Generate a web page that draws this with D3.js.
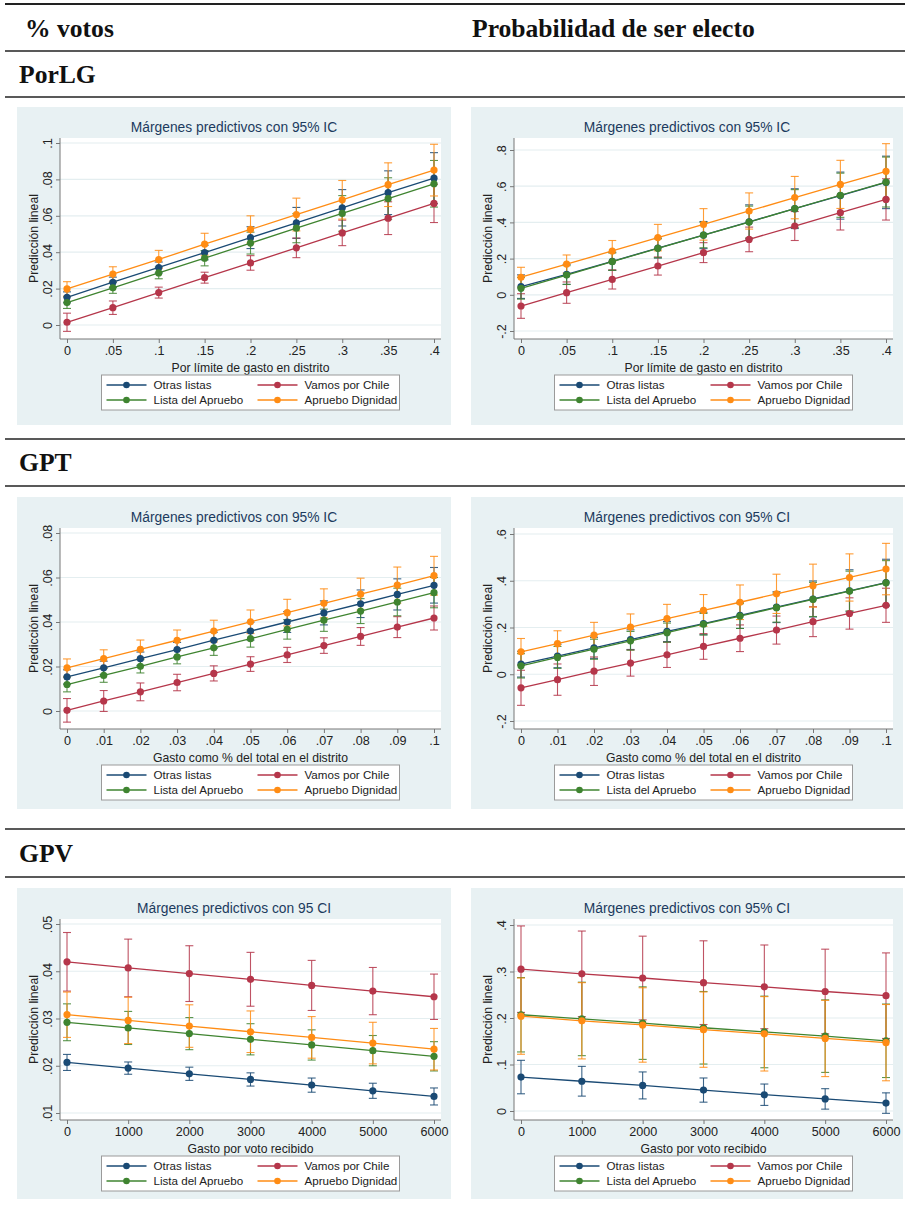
<!DOCTYPE html>
<meta charset="utf-8">
<script src="https://d3js.org/d3.v7.min.js"></script>
<style>
  body { margin: 0; background: #fff; }
  .hdr { font-family: "Liberation Serif", "DejaVu Serif", serif; font-weight: bold; font-size: 25.6px; fill: #111; }
  .ctitle { font-family: "Liberation Sans", Arial, sans-serif; font-size: 13.8px; fill: #1c3b5e; }
  .axt { font-family: "Liberation Sans", Arial, sans-serif; font-size: 12.2px; fill: #222; }
  .tick text { font-family: "Liberation Sans", Arial, sans-serif; font-size: 12.6px; fill: #222; }
  .leg { font-family: "Liberation Sans", Arial, sans-serif; font-size: 11.6px; fill: #222; }
</style>
<body>
<script>
// series (legend order)
var seriesNames = ["Otras listas", "Vamos por Chile", "Lista del Apruebo", "Apruebo Dignidad"];
var seriesColors = ["#1a4a74", "#b5364a", "#3f8430", "#ff8c14"];

// x values / tick labels
var xPorLG = [0, .05, .1, .15, .2, .25, .3, .35, .4];
var xPorLGLabels = ["0", ".05", ".1", ".15", ".2", ".25", ".3", ".35", ".4"];
var xGPT = [0, .01, .02, .03, .04, .05, .06, .07, .08, .09, .1];
var xGPTLabels = ["0", ".01", ".02", ".03", ".04", ".05", ".06", ".07", ".08", ".09", ".1"];
var xGPV = [0, 1000, 2000, 3000, 4000, 5000, 6000];
var xGPVLabels = ["0", "1000", "2000", "3000", "4000", "5000", "6000"];

// PorLG - % votos
var porlgVotosFit = [
  [0.0152, 0.0235, 0.0316, 0.0398, 0.0480, 0.0561, 0.0644, 0.0727, 0.0807],
  [0.0015, 0.0095, 0.0178, 0.0260, 0.0341, 0.0424, 0.0506, 0.0587, 0.0668],
  [0.0123, 0.0204, 0.0286, 0.0367, 0.0450, 0.0532, 0.0613, 0.0694, 0.0776],
  [0.0198, 0.0280, 0.0360, 0.0444, 0.0525, 0.0607, 0.0688, 0.0771, 0.0851]
];
var porlgVotosCI = [
  [0.0030, 0.0028, 0.0030, 0.0040, 0.0060, 0.0085, 0.0100, 0.0120, 0.0140],
  [0.0050, 0.0037, 0.0030, 0.0030, 0.0040, 0.0054, 0.0070, 0.0090, 0.0105],
  [0.0032, 0.0030, 0.0032, 0.0042, 0.0060, 0.0080, 0.0098, 0.0115, 0.0128],
  [0.0040, 0.0040, 0.0050, 0.0060, 0.0075, 0.0090, 0.0106, 0.0120, 0.0142]
];
// PorLG - probabilidad
var porlgProbFit = [
  [0.045, 0.113, 0.185, 0.258, 0.330, 0.403, 0.476, 0.548, 0.621],
  [-0.062, 0.012, 0.085, 0.159, 0.233, 0.306, 0.380, 0.454, 0.527],
  [0.036, 0.109, 0.183, 0.257, 0.330, 0.402, 0.476, 0.550, 0.623],
  [0.097, 0.170, 0.242, 0.316, 0.389, 0.463, 0.537, 0.610, 0.682]
];
var porlgProbCI = [
  [0.065, 0.055, 0.050, 0.055, 0.075, 0.094, 0.110, 0.130, 0.145],
  [0.068, 0.059, 0.053, 0.050, 0.055, 0.068, 0.080, 0.096, 0.114],
  [0.060, 0.052, 0.048, 0.052, 0.070, 0.088, 0.105, 0.122, 0.138],
  [0.055, 0.050, 0.058, 0.073, 0.087, 0.100, 0.117, 0.133, 0.153]
];
// GPT - % votos
var gptVotosFit = [
  [0.0153, 0.0194, 0.0235, 0.0276, 0.0318, 0.0359, 0.0400, 0.0441, 0.0482, 0.0524, 0.0565],
  [0.0003, 0.0045, 0.0086, 0.0128, 0.0169, 0.0211, 0.0252, 0.0294, 0.0335, 0.0377, 0.0418],
  [0.0119, 0.0160, 0.0201, 0.0243, 0.0284, 0.0325, 0.0367, 0.0408, 0.0449, 0.0490, 0.0532],
  [0.0194, 0.0235, 0.0277, 0.0318, 0.0359, 0.0401, 0.0442, 0.0484, 0.0525, 0.0566, 0.0608]
];
var gptVotosCI = [
  [0.0032, 0.0030, 0.0030, 0.0032, 0.0036, 0.0040, 0.0047, 0.0054, 0.0062, 0.0070, 0.0080],
  [0.0053, 0.0047, 0.0040, 0.0037, 0.0034, 0.0033, 0.0034, 0.0035, 0.0040, 0.0047, 0.0054],
  [0.0033, 0.0031, 0.0030, 0.0031, 0.0034, 0.0038, 0.0044, 0.0050, 0.0056, 0.0062, 0.0068],
  [0.0040, 0.0040, 0.0042, 0.0046, 0.0049, 0.0053, 0.0060, 0.0065, 0.0072, 0.0081, 0.0087]
];
// GPT - probabilidad
var gptProbFit = [
  [0.043, 0.078, 0.113, 0.148, 0.183, 0.217, 0.252, 0.287, 0.322, 0.357, 0.392],
  [-0.058, -0.023, 0.013, 0.048, 0.083, 0.119, 0.154, 0.189, 0.225, 0.260, 0.295],
  [0.036, 0.072, 0.107, 0.143, 0.178, 0.214, 0.249, 0.285, 0.320, 0.356, 0.391],
  [0.096, 0.131, 0.167, 0.202, 0.238, 0.273, 0.308, 0.344, 0.379, 0.414, 0.450]
];
var gptProbCI = [
  [0.055, 0.050, 0.045, 0.042, 0.043, 0.048, 0.056, 0.066, 0.077, 0.090, 0.100],
  [0.075, 0.067, 0.061, 0.056, 0.054, 0.055, 0.057, 0.060, 0.064, 0.067, 0.073],
  [0.052, 0.047, 0.043, 0.040, 0.041, 0.046, 0.053, 0.062, 0.073, 0.085, 0.095],
  [0.057, 0.055, 0.055, 0.056, 0.061, 0.068, 0.074, 0.084, 0.092, 0.101, 0.110]
];
// GPV - % votos
var gpvVotosFit = [
  [0.0207, 0.0195, 0.0183, 0.0171, 0.0159, 0.0147, 0.0135],
  [0.0420, 0.0407, 0.0395, 0.0383, 0.0370, 0.0358, 0.0346],
  [0.0292, 0.0280, 0.0268, 0.0256, 0.0244, 0.0232, 0.0220],
  [0.0308, 0.0296, 0.0284, 0.0272, 0.0260, 0.0248, 0.0235]
];
var gpvVotosCI = [
  [0.0017, 0.0013, 0.0014, 0.0014, 0.0015, 0.0016, 0.0018],
  [0.0062, 0.0061, 0.0059, 0.0057, 0.0053, 0.0050, 0.0048],
  [0.0039, 0.0035, 0.0034, 0.0033, 0.0032, 0.0032, 0.0031],
  [0.0048, 0.0049, 0.0045, 0.0044, 0.0044, 0.0044, 0.0044]
];
// GPV - probabilidad
var gpvProbFit = [
  [0.073, 0.064, 0.055, 0.045, 0.035, 0.026, 0.017],
  [0.305, 0.295, 0.286, 0.276, 0.267, 0.257, 0.248],
  [0.207, 0.198, 0.189, 0.179, 0.170, 0.161, 0.151],
  [0.204, 0.194, 0.185, 0.175, 0.166, 0.156, 0.147]
];
var gpvProbCI = [
  [0.036, 0.032, 0.029, 0.026, 0.023, 0.022, 0.022],
  [0.093, 0.092, 0.090, 0.090, 0.090, 0.091, 0.092],
  [0.080, 0.079, 0.078, 0.078, 0.077, 0.078, 0.079],
  [0.082, 0.082, 0.080, 0.081, 0.080, 0.082, 0.082]
];

// y ticks
var yTicks1 = [0, .02, .04, .06, .08, .1], yLabels1 = ["0", ".02", ".04", ".06", ".08", ".1"];
var yTicks2 = [-.2, 0, .2, .4, .6, .8], yLabels2 = ["-.2", "0", ".2", ".4", ".6", ".8"];
var yTicks3 = [0, .02, .04, .06, .08], yLabels3 = ["0", ".02", ".04", ".06", ".08"];
var yTicks4 = [-.2, 0, .2, .4, .6], yLabels4 = ["-.2", "0", ".2", ".4", ".6"];
var yTicks5 = [.01, .02, .03, .04, .05], yLabels5 = [".01", ".02", ".03", ".04", ".05"];
var yTicks6 = [0, .1, .2, .3, .4], yLabels6 = ["0", ".1", ".2", ".3", ".4"];

var W = 905, H = 1211;
var svg = d3.select("body").append("svg").attr("width", W).attr("height", H);
svg.append("rect").attr("width", W).attr("height", H).attr("fill", "#fff");

// table rules + headings
[4, 51, 97, 439, 486, 829, 877].forEach(function(y, i) {
  svg.append("line").attr("x1", 5).attr("x2", W).attr("y1", y).attr("y2", y)
    .attr("stroke", "#222").attr("stroke-width", i == 0 ? 2 : 1.6);
});
svg.append("text").attr("class", "hdr").attr("x", 25).attr("y", 37).text("% votos");
svg.append("text").attr("class", "hdr").attr("x", 472).attr("y", 37).text("Probabilidad de ser electo");
svg.append("text").attr("class", "hdr").attr("x", 19).attr("y", 83).text("PorLG");
svg.append("text").attr("class", "hdr").attr("x", 19).attr("y", 471).text("GPT");
svg.append("text").attr("class", "hdr").attr("x", 19).attr("y", 862).text("GPV");

function drawPanel(o) {
  var g = svg.append("g").attr("transform", "translate(" + o.x + "," + o.y + ")");
  g.append("rect").attr("width", o.w).attr("height", o.h).attr("fill", "#e8f1f3");

  var pl = 43, pr = o.w - 10, pt = 31, pb = 31 + 201;
  g.append("rect").attr("x", pl).attr("y", pt).attr("width", pr - pl).attr("height", pb - pt).attr("fill", "#fff");

  var x = d3.scaleLinear().domain([o.xs[0], o.xs[o.xs.length - 1]]).range([pl + 7, pr - 7]);
  var y = d3.scaleLinear().domain([o.yt[0], o.yt[o.yt.length - 1]]).range([pb - o.padB, pt + o.padT]);

  // grid
  g.selectAll(".grid").data(o.yt).enter().append("line")
    .attr("x1", pl).attr("x2", pr).attr("y1", function(d) { return y(d); }).attr("y2", function(d) { return y(d); })
    .attr("stroke", "#e4eef0").attr("stroke-width", 1.2);

  g.append("text").attr("class", "ctitle").attr("x", o.w / 2).attr("y", 25).attr("text-anchor", "middle").text(o.title);

  // axes
  var ya = g.append("g").attr("transform", "translate(" + pl + ",0)")
    .call(d3.axisLeft(y).tickValues(o.yt).tickFormat(function(d, i) { return o.yl[i]; }).tickSize(4).tickSizeOuter(0));
  ya.select(".domain").remove();
  ya.selectAll(".tick line").attr("stroke", "#777");
  ya.selectAll(".tick text").attr("transform", "rotate(-90)").attr("x", 0).attr("y", -8).attr("dy", 0)
    .attr("text-anchor", "middle");

  var xa = g.append("g").attr("transform", "translate(0," + pb + ")")
    .call(d3.axisBottom(x).tickValues(o.xs).tickFormat(function(d, i) { return o.xl[i]; }).tickSize(4).tickPadding(3).tickSizeOuter(0));
  xa.select(".domain").remove();
  xa.selectAll(".tick line").attr("stroke", "#777");

  g.append("line").attr("x1", pl).attr("x2", pl).attr("y1", pt).attr("y2", pb).attr("stroke", "#777");
  g.append("line").attr("x1", pl).attr("x2", pr).attr("y1", pb).attr("y2", pb).attr("stroke", "#777");

  g.append("text").attr("class", "axt").attr("x", (pl + pr) / 2).attr("y", pb + 33).attr("text-anchor", "middle").text(o.xTitle);
  g.append("text").attr("class", "axt").attr("transform", "translate(" + (pl - 22) + "," + ((pt + pb) / 2) + ") rotate(-90)")
    .attr("text-anchor", "middle").text("Predicción lineal");

  // CIs
  o.fit.forEach(function(s, k) {
    var col = seriesColors[k];
    s.forEach(function(v, i) {
      var cx = x(o.xs[i]), lo = y(v - o.ci[k][i]), hi = y(v + o.ci[k][i]);
      g.append("line").attr("x1", cx).attr("x2", cx).attr("y1", lo).attr("y2", hi).attr("stroke", col).attr("stroke-width", 1.1).attr("opacity", 0.85);
      [lo, hi].forEach(function(yy) {
        g.append("line").attr("x1", cx - 4).attr("x2", cx + 4).attr("y1", yy).attr("y2", yy).attr("stroke", col).attr("stroke-width", 1.1).attr("opacity", 0.85);
      });
    });
  });

  // lines + markers
  var line = d3.line().x(function(d, i) { return x(o.xs[i]); }).y(function(d) { return y(d); });
  o.fit.forEach(function(s, k) {
    g.append("path").datum(s).attr("d", line).attr("fill", "none").attr("stroke", seriesColors[k]).attr("stroke-width", 1.3);
    g.selectAll(null).data(s).enter().append("circle")
      .attr("cx", function(d, i) { return x(o.xs[i]); }).attr("cy", function(d) { return y(d); })
      .attr("r", 3.6).attr("fill", seriesColors[k]);
  });

  // legend
  var lx = (pl + pr) / 2 - 149, ly = pb + 36;
  var lg = g.append("g").attr("transform", "translate(" + lx + "," + ly + ")");
  lg.append("rect").attr("width", 298).attr("height", 35).attr("fill", "#fff").attr("stroke", "#9a9a9a").attr("stroke-width", 1);
  seriesNames.forEach(function(nm, k) {
    var c = k % 2, r = Math.floor(k / 2);
    var ox = 5 + c * 151, oy = 10 + r * 15;
    lg.append("line").attr("x1", ox).attr("x2", ox + 40).attr("y1", oy).attr("y2", oy).attr("stroke", seriesColors[k]).attr("stroke-width", 1.3);
    lg.append("circle").attr("cx", ox + 20).attr("cy", oy).attr("r", 3.3).attr("fill", seriesColors[k]);
    lg.append("text").attr("class", "leg").attr("x", ox + 47).attr("y", oy + 4).text(nm);
  });
}

drawPanel({ x: 17, y: 107, w: 434, h: 318, title: "Márgenes predictivos con 95% IC", xTitle: "Por límite de gasto en distrito",
  xs: xPorLG, xl: xPorLGLabels, yt: yTicks1, yl: yLabels1, padT: 5, padB: 14, fit: porlgVotosFit, ci: porlgVotosCI });
drawPanel({ x: 471, y: 107, w: 432, h: 318, title: "Márgenes predictivos con 95% IC", xTitle: "Por límite de gasto en distrito",
  xs: xPorLG, xl: xPorLGLabels, yt: yTicks2, yl: yLabels2, padT: 12, padB: 8, fit: porlgProbFit, ci: porlgProbCI });
drawPanel({ x: 17, y: 497, w: 434, h: 312, title: "Márgenes predictivos con 95% IC", xTitle: "Gasto como % del total en el distrito",
  xs: xGPT, xl: xGPTLabels, yt: yTicks3, yl: yLabels3, padT: 5, padB: 18, fit: gptVotosFit, ci: gptVotosCI });
drawPanel({ x: 471, y: 497, w: 432, h: 312, title: "Márgenes predictivos con 95% CI", xTitle: "Gasto como % del total en el distrito",
  xs: xGPT, xl: xGPTLabels, yt: yTicks4, yl: yLabels4, padT: 6, padB: 8, fit: gptProbFit, ci: gptProbCI });
drawPanel({ x: 17, y: 888, w: 434, h: 311, title: "Márgenes predictivos con 95 CI", xTitle: "Gasto por voto recibido",
  xs: xGPV, xl: xGPVLabels, yt: yTicks5, yl: yLabels5, padT: 5, padB: 7, fit: gpvVotosFit, ci: gpvVotosCI });
drawPanel({ x: 471, y: 888, w: 432, h: 311, title: "Márgenes predictivos con 95% CI", xTitle: "Gasto por voto recibido",
  xs: xGPV, xl: xGPVLabels, yt: yTicks6, yl: yLabels6, padT: 6, padB: 9, fit: gpvProbFit, ci: gpvProbCI });
</script>
</body>
